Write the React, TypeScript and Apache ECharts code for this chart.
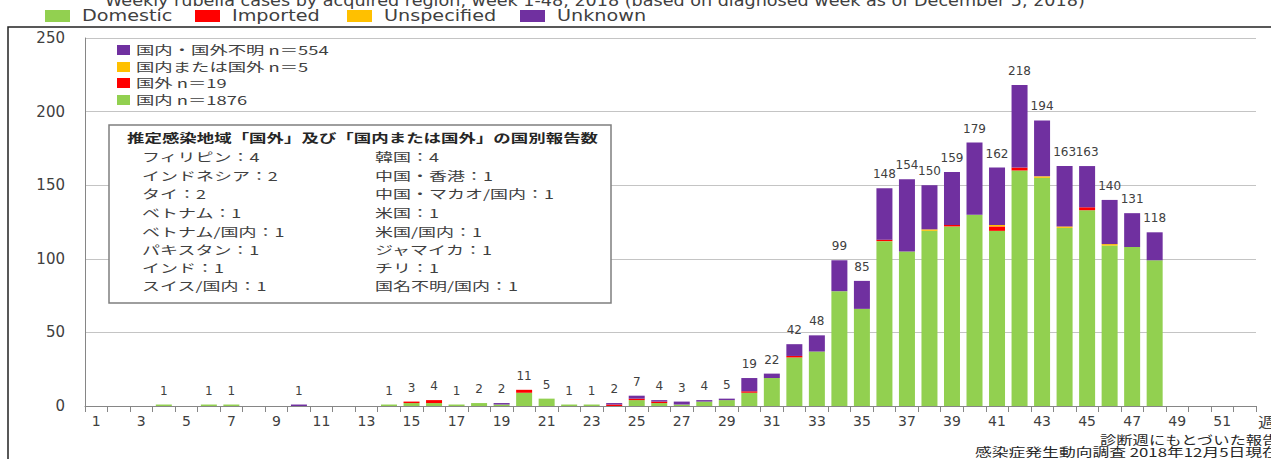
import React, { useEffect, useRef } from "react";
import * as echarts from "echarts";

const weeks = [
  "1", "2", "3", "4", "5", "6", "7", "8", "9", "10", "11", "12", "13",
  "14", "15", "16", "17", "18", "19", "20", "21", "22", "23", "24", "25", "26",
  "27", "28", "29", "30", "31", "32", "33", "34", "35", "36", "37", "38", "39",
  "40", "41", "42", "43", "44", "45", "46", "47", "48", "49", "50", "51", "52",
];

// weeks 1-48
const domestic = [
  0, 0, 0, 1, 0, 1, 1, 0, 0, 0, 0, 0, 0, 1, 2, 2, 1, 2, 1, 9, 5, 1, 1, 0,
  4, 2, 1, 3, 4, 9, 19, 33, 37, 78, 66, 112, 105, 119, 122, 130, 119, 160, 155, 121, 133, 109, 108, 99,
];
const imported = [
  0, 0, 0, 0, 0, 0, 0, 0, 0, 0, 0, 0, 0, 0, 1, 2, 0, 0, 0, 2, 0, 0, 0, 1,
  1, 1, 0, 0, 0, 1, 0, 1, 0, 0, 0, 1, 0, 0, 1, 0, 3, 2, 0, 0, 2, 0, 0, 0,
];
const unspecified = [
  0, 0, 0, 0, 0, 0, 0, 0, 0, 0, 0, 0, 0, 0, 0, 0, 0, 0, 0, 0, 0, 0, 0, 0,
  0, 0, 0, 0, 0, 0, 0, 0, 0, 0, 0, 0, 0, 1, 0, 0, 1, 0, 1, 1, 0, 1, 0, 0,
];
const unknown = [
  0, 0, 0, 0, 0, 0, 0, 0, 0, 1, 0, 0, 0, 0, 0, 0, 0, 0, 1, 0, 0, 0, 0, 1,
  2, 1, 2, 1, 1, 9, 3, 8, 11, 21, 19, 35, 49, 30, 36, 49, 39, 56, 38, 41, 28, 30, 23, 19,
];

const enLegend = ["Domestic", "Imported", "Unspecified", "Unknown"];
const jpLegend = ["国内・国外不明 n＝554", "国内または国外 n＝5", "国外 n＝19", "国内 n＝1876"];
const boxTitle = "推定感染地域「国外」及び「国内または国外」の国別報告数";
const boxLeft = [
  "フィリピン：4", "インドネシア：2", "タイ：2", "ベトナム：1",
  "ベトナム/国内：1", "パキスタン：1", "インド：1", "スイス/国内：1",
];
const boxRight = [
  "韓国：4", "中国・香港：1", "中国・マカオ/国内：1", "米国：1",
  "米国/国内：1", "ジャマイカ：1", "チリ：1", "国名不明/国内：1",
];

const C_DOM = "#92D050";
const C_IMP = "#FF0000";
const C_UNS = "#FFC000";
const C_UNK = "#7030A0";

const totals = domestic.map((v, i) => v + imported[i] + unspecified[i] + unknown[i]);

const JP = "'Noto Sans CJK JP', 'Noto Sans', sans-serif";
const EN = "'DejaVu Sans', Verdana, sans-serif";

export default function App() {
  const ref = useRef<HTMLDivElement>(null);
  useEffect(() => {
    const chart = echarts.init(ref.current!, null, { renderer: "svg" });
    const enColors = [C_DOM, C_IMP, C_UNS, C_UNK];
    const enRectX = [45, 195, 347, 520];
    const jpColors = [C_UNK, C_UNS, C_IMP, C_DOM];
    const jpY = [50, 67, 83, 100];
    const rowY = [157, 176, 194, 213, 232, 250, 268, 286];

    const graphic: any[] = [];
    graphic.push({
      type: "text", x: 105, y: 0, scaleX: 1.1,
      style: {
        text: "Weekly rubella cases by acquired region, week 1-48, 2018 (based on diagnosed week as of December 5, 2018)",
        font: `16px ${EN}`, fill: "#404040", verticalAlign: "middle", align: "left",
      },
    });
    enLegend.forEach((t, i) => {
      graphic.push({ type: "rect", shape: { x: enRectX[i], y: 10, width: 25, height: 12 }, style: { fill: enColors[i] } });
      graphic.push({
        type: "text", x: enRectX[i] + 37, y: 16, scaleX: 1.2,
        style: { text: t, font: `16px ${EN}`, fill: "#404040", verticalAlign: "middle", align: "left" },
      });
    });
    graphic.push({
      type: "rect", shape: { x: 8, y: 27, width: 1400, height: 600 },
      style: { fill: "none", stroke: "#222", lineWidth: 1.5 }, silent: true,
    });
    jpLegend.forEach((t, i) => {
      graphic.push({ type: "rect", shape: { x: 117, y: jpY[i] - 5, width: 13, height: 10 }, style: { fill: jpColors[i] } });
      graphic.push({
        type: "text", x: 136, y: jpY[i], scaleX: 1.53,
        style: { text: t, font: `12px ${JP}`, fill: "#404040", verticalAlign: "middle", align: "left" },
      });
    });
    graphic.push({
      type: "rect", z: 100, shape: { x: 109, y: 125, width: 502, height: 178 },
      style: { fill: "#fff", stroke: "#7f7f7f", lineWidth: 1.5 },
    });
    graphic.push({
      type: "text", z: 101, x: 127, y: 138, scaleX: 1.455,
      style: { text: boxTitle, font: `bold 12px ${JP}`, fill: "#262626", verticalAlign: "middle", align: "left" },
    });
    boxLeft.forEach((t, i) => {
      graphic.push({
        type: "text", z: 101, x: 142, y: rowY[i], scaleX: 1.5,
        style: { text: t, font: `12px ${JP}`, fill: "#404040", verticalAlign: "middle", align: "left" },
      });
    });
    boxRight.forEach((t, i) => {
      graphic.push({
        type: "text", z: 101, x: 375, y: rowY[i], scaleX: 1.5,
        style: { text: t, font: `12px ${JP}`, fill: "#404040", verticalAlign: "middle", align: "left" },
      });
    });
    graphic.push({
      type: "text", x: 1258, y: 421, scaleX: 1.3,
      style: { text: "週", font: `14px ${JP}`, fill: "#404040", verticalAlign: "middle", align: "left" },
    });
    graphic.push({
      type: "text", x: 1100, y: 440, scaleX: 1.36,
      style: { text: "診断週にもとづいた報告数", font: `12px ${JP}`, fill: "#262626", verticalAlign: "middle", align: "left" },
    });
    graphic.push({
      type: "text", x: 975, y: 452, scaleX: 1.4,
      style: { text: "感染症発生動向調査 2018年12月5日現在", font: `12px ${JP}`, fill: "#262626", verticalAlign: "middle", align: "left" },
    });

    const barBase = { type: "bar", stack: "total", barWidth: 16 };
    chart.setOption({
      animation: false,
      backgroundColor: "#fff",
      grid: { left: 85, right: 15, top: 38, bottom: 53 },
      xAxis: {
        type: "category",
        data: weeks,
        axisLine: { lineStyle: { color: "#868686", width: 1 } },
        axisTick: { show: true, interval: 0, alignWithLabel: false, length: 6, lineStyle: { color: "#868686" } },
        axisLabel: { interval: 1, fontSize: 14, fontFamily: EN, color: "#404040", margin: 8 },
      },
      yAxis: {
        type: "value",
        min: 0,
        max: 250,
        interval: 50,
        axisLine: { show: true, lineStyle: { color: "#868686" } },
        axisTick: { show: false },
        splitLine: { lineStyle: { color: "#c4c4c4", width: 1 } },
        axisLabel: { fontSize: 15, fontFamily: EN, color: "#404040", margin: 20 },
      },
      series: [
        { ...barBase, name: "国内 n＝1876", data: domestic, itemStyle: { color: C_DOM } },
        { ...barBase, name: "国外 n＝19", data: imported, itemStyle: { color: C_IMP } },
        { ...barBase, name: "国内または国外 n＝5", data: unspecified, itemStyle: { color: C_UNS } },
        { ...barBase, name: "国内・国外不明 n＝554", data: unknown, itemStyle: { color: C_UNK } },
        {
          ...barBase,
          name: "total",
          data: totals.map(() => 0),
          itemStyle: { color: "rgba(0,0,0,0)" },
          label: {
            show: true,
            position: "top",
            distance: 8,
            fontSize: 12,
            fontFamily: EN,
            color: "#404040",
            formatter: (p: any) => (totals[p.dataIndex] > 0 ? String(totals[p.dataIndex]) : ""),
          },
        },
      ],
      graphic,
    });
    return () => chart.dispose();
  }, []);
  return (
    <div
      ref={ref}
      style={{ position: "fixed", left: 0, top: 0, width: 1271, height: 459, background: "#fff" }}
    />
  );
}
